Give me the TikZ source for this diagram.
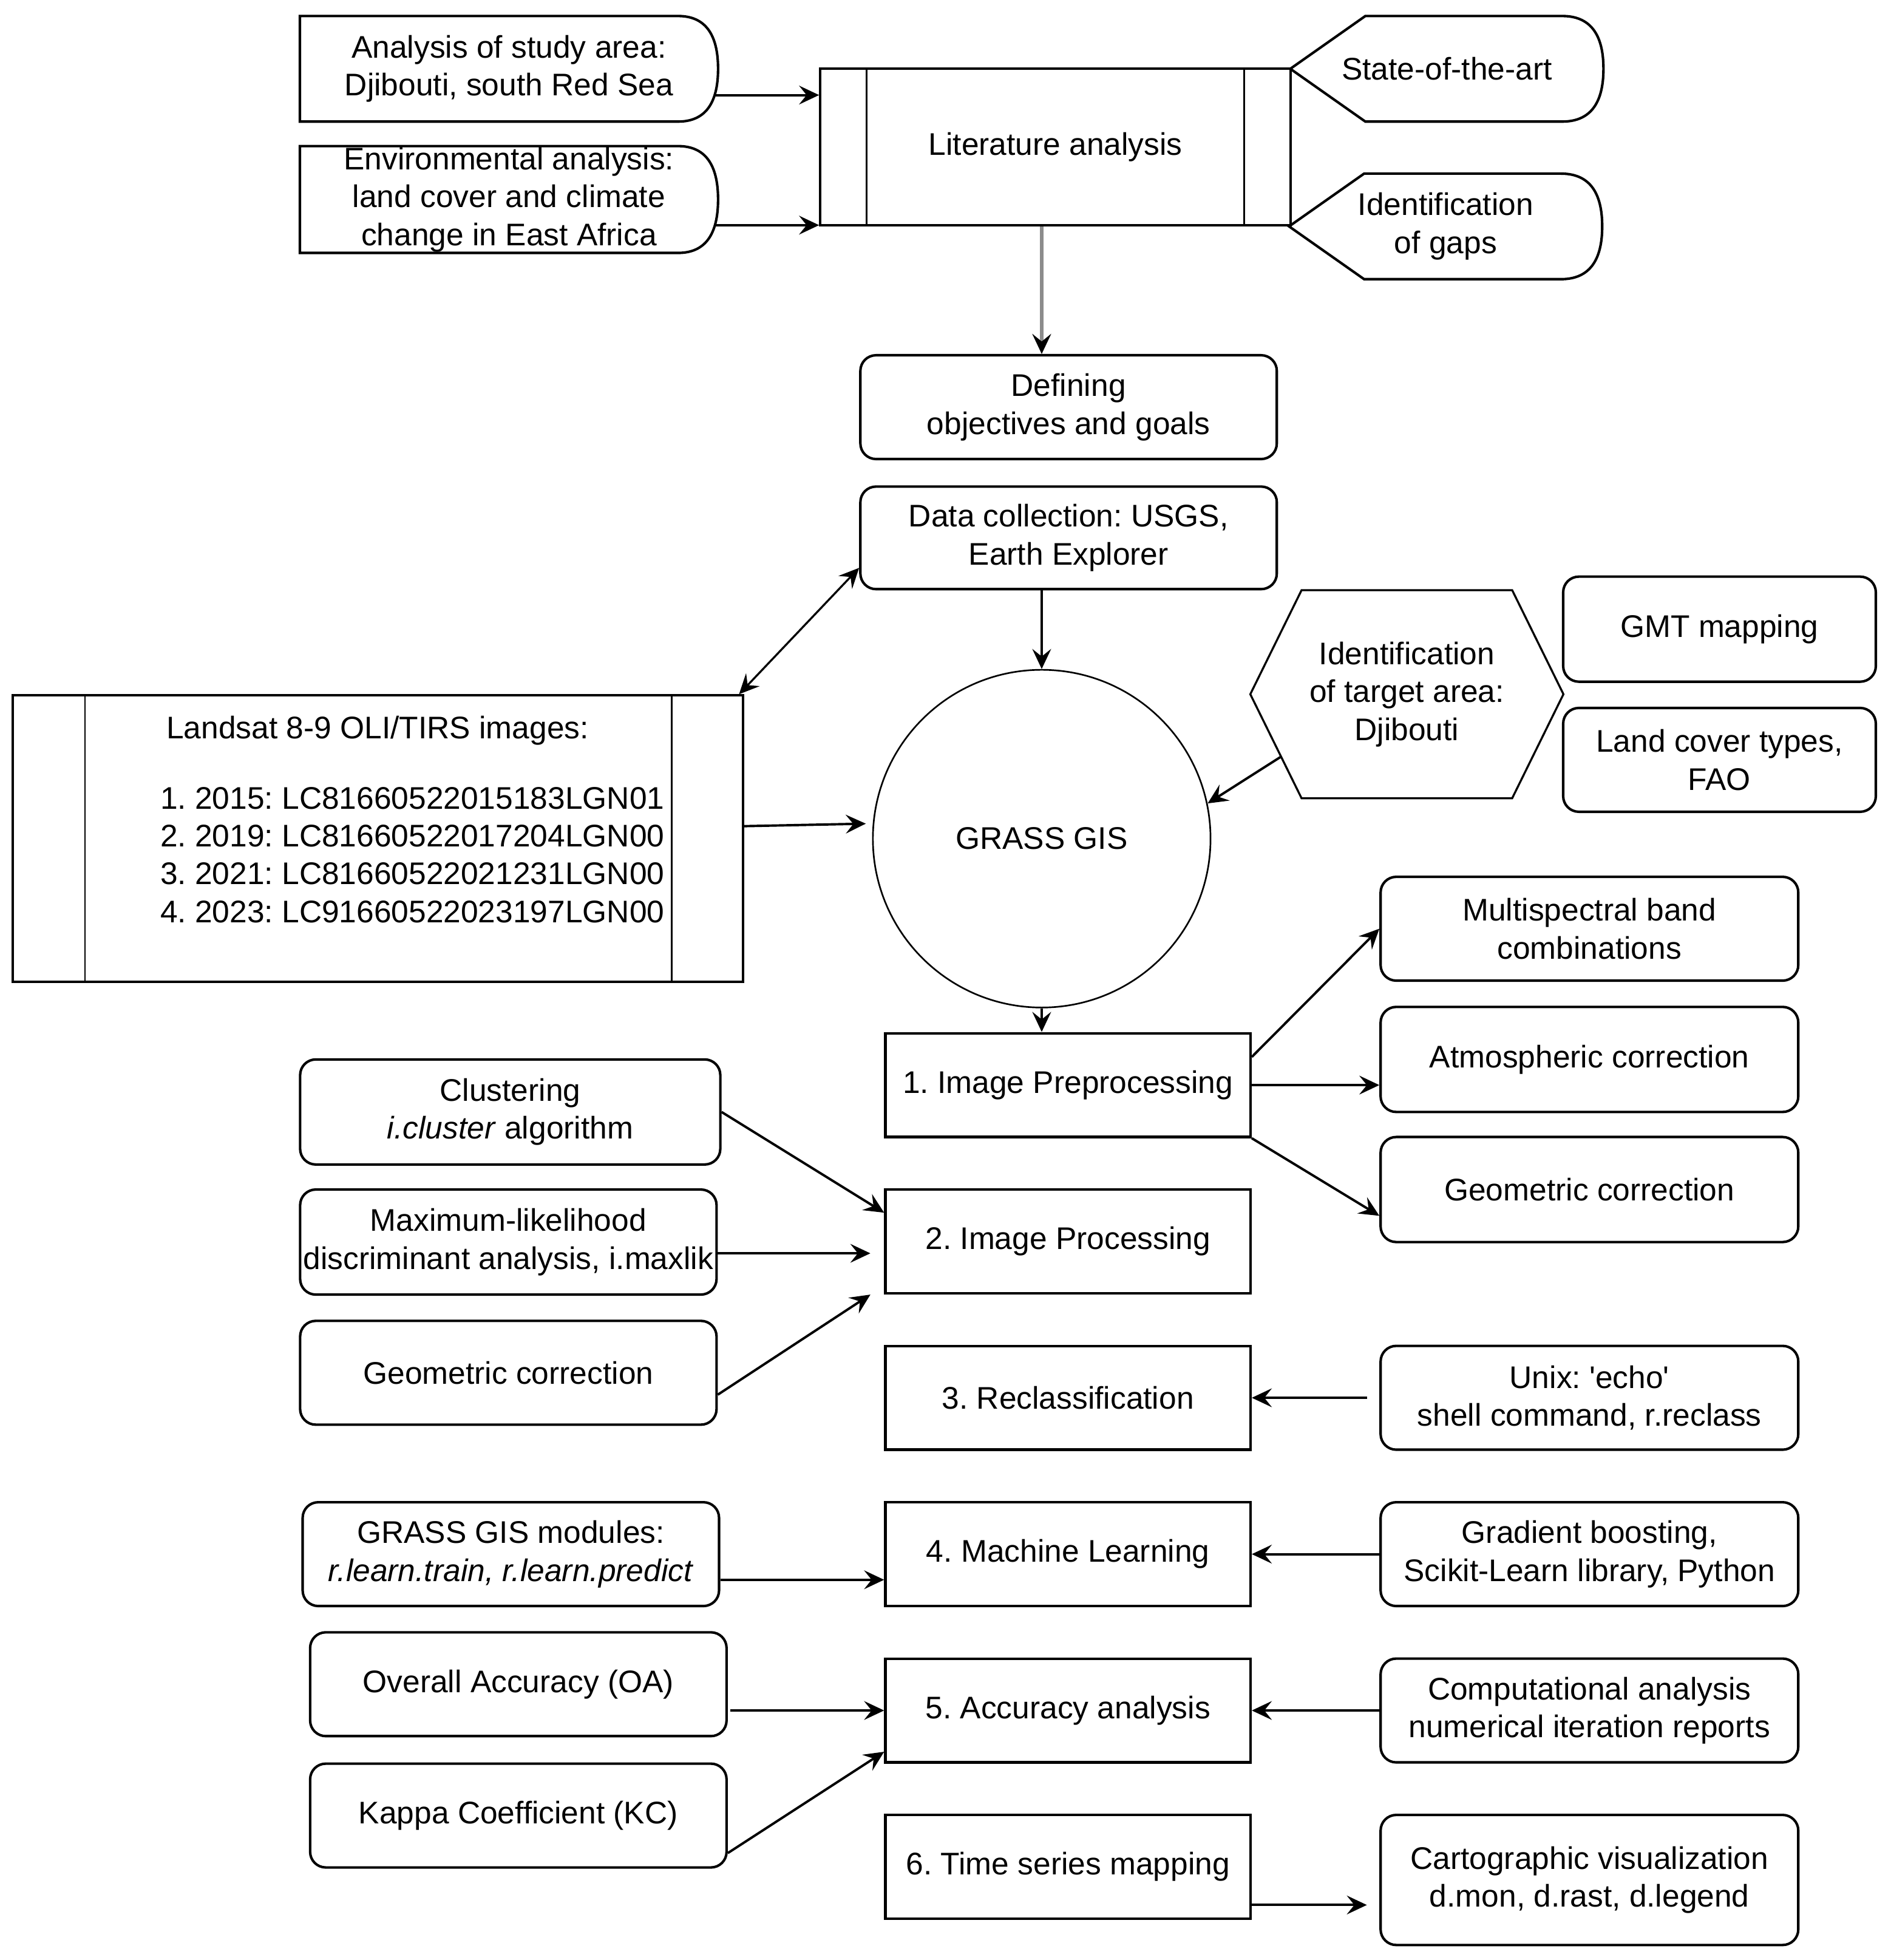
\documentclass[tikz,border=0pt]{standalone}
\usepackage{fontspec}
\setmainfont{Liberation Sans}
\usetikzlibrary{arrows.meta,calc}
\frenchspacing
\newcommand{\delayline}[1]{%
 \draw[bd] (#1.north west) -- ([xshift=-32pt]#1.north east)
   .. controls ([xshift=-10.7pt]#1.north east) and ($(#1.east)!0.667!(#1.north east)$) .. (#1.east)
   .. controls ($(#1.east)!0.667!(#1.south east)$) and ([xshift=-10.7pt]#1.south east) .. ([xshift=-32pt]#1.south east)
   -- (#1.south west) -- cycle;}
\newcommand{\displayline}[1]{%
 \draw[bd] (#1.west) -- ([xshift=60pt]#1.north west) -- ([xshift=-33pt]#1.north east)
   .. controls ([xshift=-11pt]#1.north east) and ($(#1.east)!0.667!(#1.north east)$) .. (#1.east)
   .. controls ($(#1.east)!0.667!(#1.south east)$) and ([xshift=-11pt]#1.south east) .. ([xshift=-33pt]#1.south east)
   -- ([xshift=60pt]#1.south west) -- cycle;}
\begin{document}
\begin{tikzpicture}[x=1pt,y=-1pt,
  every node/.style={font=\fontsize{25pt}{30.3pt}\selectfont\frenchspacing, inner sep=0pt, align=center},
  bd/.style={draw=black, line width=2pt},
  thinln/.style={draw=black, line width=1.3pt},
  sq/.style={bd, minimum width=292pt, minimum height=83pt},
  rb/.style={bd, rounded corners=12.5pt, minimum height=83pt},
  arr/.style={draw=black, line width=1.9pt, -{Stealth[length=16pt,width=15pt,inset=6pt]}},
  arrg/.style={draw=black!45, line width=3.2pt, -{Stealth[length=16pt,width=15pt,inset=6pt,color=black]}},
  dbl/.style={draw=black, line width=1.6pt, {Stealth[length=16pt,width=15pt,inset=6pt]}-{Stealth[length=16pt,width=15pt,inset=6pt]}},
]
\fill[white] (0,0) rectangle (1512,1567);
\useasboundingbox (0,0) rectangle (1512,1567);

% top row
\node[minimum width=334pt, minimum height=84pt] (a1) at (407,55) {Analysis of study area:\\Djibouti, south Red Sea};
\node[minimum width=334pt, minimum height=85pt] (a2) at (407,159.5) {Environmental analysis:\\land cover and climate\\change in East Africa};
\node[bd, minimum width=376pt, minimum height=125pt] (lit) at (844,117.5) {Literature analysis};
\node[minimum width=250pt, minimum height=84pt] (sota) at (1157,55) {State-of-the-art};
\node[minimum width=250pt, minimum height=84pt] (gaps) at (1156,181) {Identification\\of gaps};
\delayline{a1}
\delayline{a2}
\displayline{sota}
\displayline{gaps}
\draw[thinln] ([xshift=38pt]lit.north west) -- ([xshift=38pt]lit.south west);
\draw[thinln] ([xshift=-38pt]lit.north east) -- ([xshift=-38pt]lit.south east);

\node[rb, minimum width=333pt] (defn) at (854.5,325.5) {Defining\\objectives and goals};
\node[rb, minimum width=333pt, minimum height=82pt] (data) at (854.5,430) {Data collection: USGS,\\Earth Explorer};
\node[draw=black, line width=1.3pt, circle, minimum size=270pt] (grass) at (833,670.5) {GRASS GIS};

\node[bd, minimum width=584pt, minimum height=229pt] (landsat) at (302,670.5) {};
\draw[thinln] ([xshift=59pt]landsat.north west) -- ([xshift=59pt]landsat.south west);
\draw[thinln] ([xshift=-58pt]landsat.north east) -- ([xshift=-58pt]landsat.south east);
\node (lstitle) at (302,584) {Landsat 8-9 OLI/TIRS images:};
\node[align=left, anchor=west] (lslist) at (128,683.5) {1. 2015: LC81660522015183LGN01\\2. 2019: LC81660522017204LGN00\\3. 2021: LC81660522021231LGN00\\4. 2023: LC91660522023197LGN00};

\node[minimum width=250pt, minimum height=166pt] (ident) at (1125,555) {Identification\\of target area:\\Djibouti};
\draw[draw=black, line width=1.6pt] (ident.west) -- ([xshift=41pt]ident.north west) -- ([xshift=-41pt]ident.north east) -- (ident.east) -- ([xshift=-41pt]ident.south east) -- ([xshift=41pt]ident.south west) -- cycle;
\node[rb, minimum width=250pt, minimum height=84pt] (gmt) at (1375,503) {GMT mapping};
\node[rb, minimum width=250pt, minimum height=83pt] (lcov) at (1375,607.5) {Land cover types,\\FAO};

% steps
\node[sq] (pre) at (854,867.5) {1. Image Preprocessing};
\node[rb, minimum width=334pt] (ms) at (1271,742.5) {Multispectral band\\combinations};
\node[rb, minimum width=334pt, minimum height=84pt] (atm) at (1271,847) {Atmospheric correction};
\node[rb, minimum width=334pt, minimum height=84pt] (geoa) at (1271,951) {Geometric correction};

\node[sq] (proc) at (854,992.5) {2. Image Processing};
\node[rb, minimum width=336pt, minimum height=84pt] (clus) at (408,889) {Clustering\\\textit{i.cluster} algorithm};
\node[rb, minimum width=333pt, minimum height=84pt] (mlh) at (406.5,993) {Maximum-likelihood\\discriminant analysis, i.maxlik};
\node[rb, minimum width=333pt] (geob) at (406.5,1097.5) {Geometric correction};

\node[sq] (recl) at (854,1117.5) {3. Reclassification};
\node[rb, minimum width=334pt] (unix) at (1271,1117.5) {Unix: \textquotesingle echo\textquotesingle\\shell command, r.reclass};

\node[sq] (ml) at (854,1242.5) {4. Machine Learning};
\node[rb, minimum width=333pt] (ggm) at (408.5,1242.5) {GRASS GIS modules:\\\textit{r.learn.train, r.learn.predict}};
\node[rb, minimum width=334pt] (gb) at (1271,1242.5) {Gradient boosting,\\Scikit-Learn library, Python};

\node[sq] (acc) at (854,1367.5) {5. Accuracy analysis};
\node[rb, minimum width=333pt] (oa) at (414.5,1346.5) {Overall Accuracy (OA)};
\node[rb, minimum width=333pt] (kc) at (414.5,1451.5) {Kappa Coefficient (KC)};
\node[rb, minimum width=334pt] (comp) at (1271,1367.5) {Computational analysis\\numerical iteration reports};

\node[sq] (ts) at (854,1492.5) {6. Time series mapping};
\node[rb, minimum width=334pt, minimum height=104pt] (carto) at (1271,1503) {Cartographic visualization\\d.mon, d.rast, d.legend};

% connectors
\coordinate (p1) at ([shift={(-2,21)}]a1.east);
\coordinate (p2) at ([shift={(-2.5,20.5)}]a2.east);
\draw[arr] (p1) -- (p1 -| lit.west);
\draw[arr] (p2) -- (p2 -| lit.west);
\draw[arrg] (lit.south -| grass.north) -- (defn.north -| grass.north);
\draw[arr] (data.south -| grass.north) -- (grass.north);
\draw[dbl] ([xshift=-4pt]landsat.north east) -- ([shift={(0,24)}]data.west);
\draw[arr] ([shift={(0,-10)}]landsat.east) -- ([shift={(-5,-12)}]grass.west);
\draw[arr] ($(ident.west)!0.6!([xshift=41pt]ident.south west)$) -- (grass.12);
\draw[arr] (grass.south) -- (grass.south |- pre.north);
\draw[arr] ([shift={(0,-22.5)}]pre.east) -- (ms.west);
\draw[arr] (pre.east) -- (pre.east -| atm.west);
\draw[arr] (pre.south east) -- ([shift={(0,21)}]geoa.west);
\draw[arr] (clus.east) -- ([shift={(0,-23)}]proc.west);
\coordinate (p3) at ([shift={(0,9)}]mlh.east);
\draw[arr, shorten >=11pt] (p3) -- (p3 -| proc.west);
\draw[arr] ([shift={(0,17.5)}]geob.east) -- ([xshift=-11pt]proc.south west);
\draw[arr, shorten <=10pt] (unix.west) -- (unix.west -| recl.east);
\coordinate (p4) at ([shift={(0,20.5)}]ggm.east);
\draw[arr] (p4) -- (p4 -| ml.west);
\draw[arr] (gb.west) -- (ml.east);
\coordinate (p5) at ([shift={(2,21)}]oa.east);
\draw[arr] (p5) -- (p5 -| acc.west);
\draw[arr] ([shift={(0,30)}]kc.east) -- ([shift={(0,-9.5)}]acc.south west);
\draw[arr] (comp.west) -- (acc.east);
\coordinate (p6) at ([shift={(0,30.5)}]ts.east);
\draw[arr, shorten >=10pt] (p6) -- (p6 -| carto.west);
\end{tikzpicture}
\end{document}
